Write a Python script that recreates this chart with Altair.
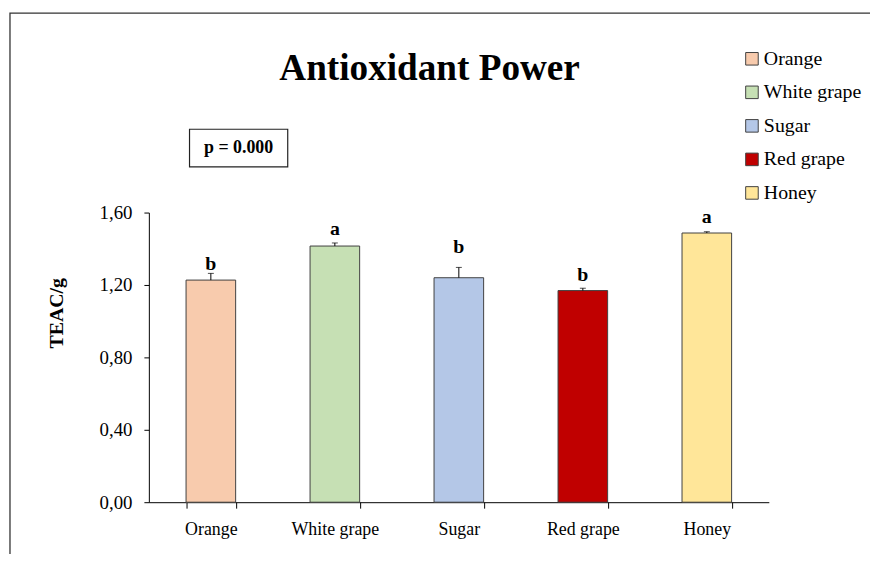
import altair as alt
import pandas as pd

categories = ["Orange", "White grape", "Sugar", "Red grape", "Honey"]
means = [1.227, 1.415, 1.240, 1.169, 1.487]
errors = [0.037, 0.017, 0.057, 0.013, 0.007]
letters = ["b", "a", "b", "b", "a"]
letter_pos = [1.282, 1.474, 1.375, 1.222, 1.541]
colors = ["#F8CBAD", "#C6E0B4", "#B4C7E7", "#C00000", "#FFE699"]
y_ticks = [0.0, 0.4, 0.8, 1.2, 1.6]
title_text = "Antioxidant Power"
p_text = "p = 0.000"
y_title = "TEAC/g"

FONT = "Liberation Serif"

df = pd.DataFrame({
    "cat": categories,
    "mean": means,
    "err": errors,
    "top": [m + e for m, e in zip(means, errors)],
    "letter": letters,
    "lpos": letter_pos,
})

x_enc = alt.X(
    "cat:N",
    sort=categories,
    scale=alt.Scale(paddingInner=0.6, paddingOuter=0.3),
    axis=alt.Axis(
        title=None, labelAngle=0, tickBand="extent", tickSize=6,
        labelFont=FONT, labelFontSize=18, labelColor="black", labelPadding=13,
        domainColor="black", tickColor="black", domainWidth=1, tickWidth=1,
    ),
)
y_scale = alt.Scale(domain=[0, 1.6], nice=False)

base = alt.Chart(df)

bars = base.mark_bar(stroke="#404040", strokeWidth=1).encode(
    x=x_enc,
    y=alt.Y(
        "mean:Q", scale=y_scale,
        axis=alt.Axis(
            values=y_ticks, grid=False, title=y_title,
            labelExpr="replace(format(datum.value, '.2f'), '.', ',')",
            labelFont=FONT, labelFontSize=19, labelColor="black", labelPadding=12,
            tickSize=5, domainColor="black", tickColor="black",
            titleFont=FONT, titleFontSize=20, titleFontWeight="bold", titleColor="black",
            titleAngle=-90, titleX=-83, titleY=101, titleAlign="center",
            titleBaseline="bottom",
        ),
    ),
    color=alt.Color(
        "cat:N", sort=categories,
        scale=alt.Scale(domain=categories, range=colors),
        legend=alt.Legend(
            orient="none", legendX=598, legendY=-165, title=None,
            symbolType="square", symbolSize=160, symbolStrokeColor="#404040",
            symbolStrokeWidth=1, labelFont=FONT, labelFontSize=20,
            labelColor="black", rowPadding=13.8, labelOffset=2, padding=0,
        ),
    ),
)

err_rule = base.mark_rule(color="black", strokeWidth=1).encode(
    x=alt.X("cat:N", sort=categories), y=alt.Y("mean:Q", scale=y_scale), y2="top:Q"
)
err_cap = base.mark_tick(color="black", size=6, thickness=1).encode(
    x=alt.X("cat:N", sort=categories), y=alt.Y("top:Q", scale=y_scale)
)
letter_txt = base.mark_text(
    font=FONT, fontSize=20, fontWeight="bold", color="black", baseline="alphabetic"
).encode(
    x=alt.X("cat:N", sort=categories), y=alt.Y("lpos:Q", scale=y_scale), text="letter:N"
)

one = pd.DataFrame({"title": [title_text], "p": [p_text]})
ann = alt.Chart(one)

title_mark = ann.mark_text(
    font=FONT, fontSize=37.5, fontWeight="bold", color="black",
    align="center", baseline="alphabetic",
).encode(text="title:N", x=alt.value(283), y=alt.value(-134))

p_box = ann.mark_rect(fill="white", stroke="#222222", strokeWidth=1.2).encode(
    x=alt.value(41), x2=alt.value(140), y=alt.value(-84), y2=alt.value(-46)
)
p_mark = ann.mark_text(
    font=FONT, fontSize=18, fontWeight="bold", color="black",
    align="center", baseline="middle",
).encode(text="p:N", x=alt.value(90.5), y=alt.value(-65))

frame = ann.mark_rect(fill="transparent", stroke="#333333", strokeWidth=1.3).encode(
    x=alt.value(-140), x2=alt.value(760), y=alt.value(-201), y2=alt.value(420)
)

chart = alt.layer(frame, p_box, p_mark, title_mark, bars, err_rule, err_cap, letter_txt).properties(
    width=625, height=292,
    padding={"left": 142, "top": 204, "right": 102, "bottom": 50},
    autosize=alt.AutoSizeParams(type="none"),
    background="white",
).configure_view(stroke=None)

chart.save("out.html", embed_options={"renderer": "svg", "actions": False})
